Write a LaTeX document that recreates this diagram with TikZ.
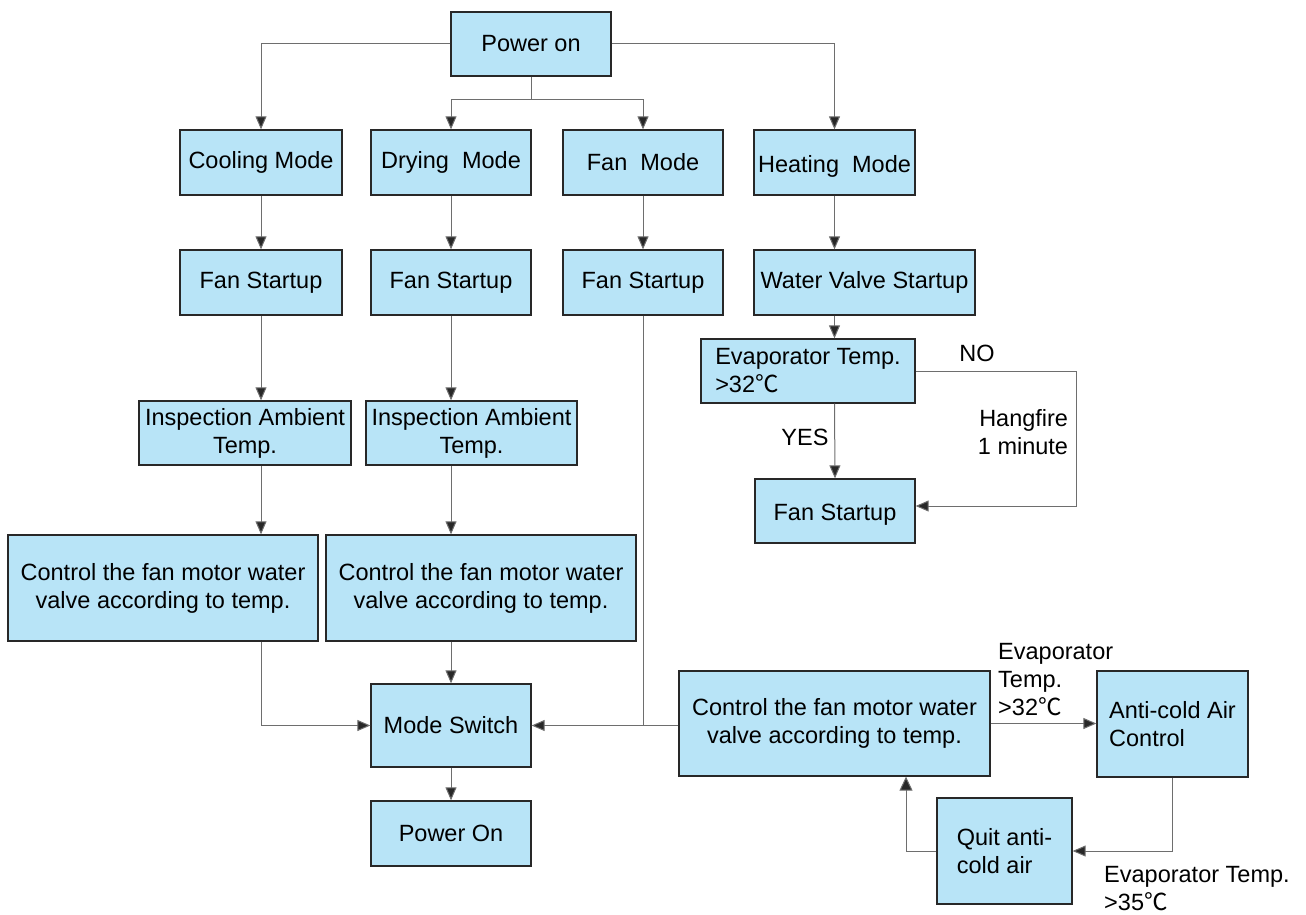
\documentclass[tikz,border=0pt]{standalone}
\usepackage{fontspec}
\setmainfont{Liberation Sans}
\newfontfamily\cjkfont{Noto Sans CJK SC}
\newcommand\mydegc{{\cjkfont ℃}}
\newcommand\lowertext[2]{\raisebox{-#1}[\height][\depth]{#2}}
\usetikzlibrary{arrows.meta}
\definecolor{boxblue}{RGB}{184,228,247}
\definecolor{edgegray}{RGB}{110,110,110}
\definecolor{boxedge}{RGB}{40,40,40}
\tikzset{
  box/.style={draw=boxedge, line width=1.3pt, fill=boxblue, inner sep=0pt, align=center},
  conn/.style={draw=edgegray, line width=1pt},
  arr/.style={conn, -{Triangle[length=13pt,width=11pt,fill=boxedge]}},
  lbl/.style={inner sep=0pt}
}
\begin{document}
\begin{tikzpicture}[x=1pt,y=-1pt,font=\fontsize{23.5}{28}\selectfont]
\useasboundingbox (0,0) rectangle (1306,915);
% boxes
\node[box, minimum width=160pt, minimum height=64pt] (power) at (531,44) {Power on};
\node[box, minimum width=162pt, minimum height=65pt] (cool) at (261,162.5) {Cooling Mode};
\node[box, minimum width=160pt, minimum height=65pt] (dry) at (451,162.5) {Drying~ Mode};
\node[box, minimum width=160pt, minimum height=65pt] (fanm) at (643,162.5) {Fan~ Mode};
\node[box, minimum width=161pt, minimum height=65pt] (heat) at (834.5,162.5) {\lowertext{4pt}{Heating~ Mode}};
\node[box, minimum width=162pt, minimum height=65pt] (fs1) at (261,282.5) {Fan Startup};
\node[box, minimum width=160pt, minimum height=65pt] (fs2) at (451,282.5) {Fan Startup};
\node[box, minimum width=160pt, minimum height=65pt] (fs3) at (643,282.5) {Fan Startup};
\node[box, minimum width=221pt, minimum height=65pt] (wv) at (864.5,282.5) {Water Valve Startup};
\node[box, minimum width=212pt, minimum height=64pt] (insp1) at (245,433) {Inspection Ambient\\Temp.};
\node[box, minimum width=211pt, minimum height=64pt] (insp2) at (471.5,433) {Inspection Ambient\\Temp.};
\node[box, minimum width=214pt, minimum height=64pt, align=left] (evap) at (808,371) {Evaporator Temp.\\>32\mydegc};
\node[box, minimum width=160pt, minimum height=64pt] (fsh) at (835,511) {\lowertext{4pt}{Fan Startup}};
\node[box, minimum width=310pt, minimum height=106pt] (ctl1) at (163,588) {Control the fan motor water\\valve according to temp.};
\node[box, minimum width=310pt, minimum height=106pt] (ctl2) at (481,588) {Control the fan motor water\\valve according to temp.};
\node[box, minimum width=160pt, minimum height=83pt] (ms) at (451,725.5) {Mode Switch};
\node[box, minimum width=160pt, minimum height=65pt] (pon) at (451,833.5) {Power On};
\node[box, minimum width=311pt, minimum height=105pt] (ctl3) at (834.5,723.5) {Control the fan motor water\\valve according to temp.};
\node[box, minimum width=151pt, minimum height=106pt, align=left] (anti) at (1172.5,724) {Anti-cold Air\\Control};
\node[box, minimum width=135pt, minimum height=106pt, align=left] (quit) at (1004.5,851) {Quit anti-\\cold air};
% helper coordinates
\coordinate (split) at (531,100);
\coordinate (nocorner) at (1076,371);
\coordinate (qcol) at (906,851);
% top distribution
\draw[arr] (power.west) -| (cool.north);
\draw[arr] (power.east) -| (heat.north);
\draw[conn] (power.south) -- (split);
\draw[arr] (split) -| (dry.north);
\draw[arr] (split) -| (fanm.north);
% cooling column
\draw[arr] (cool.south) -- (fs1.north);
\draw[arr] (fs1.south) -- (fs1.south |- insp1.north);
\draw[arr] (fs1.south |- insp1.south) -- (fs1.south |- ctl1.north);
\draw[arr] (fs1.south |- ctl1.south) |- (ms.west);
% drying column
\draw[arr] (dry.south) -- (fs2.north);
\draw[arr] (fs2.south) -- (fs2.south |- insp2.north);
\draw[arr] (fs2.south |- insp2.south) -- (fs2.south |- ctl2.north);
\draw[arr] (ms.north |- ctl2.south) -- (ms.north);
% fan column
\draw[arr] (fanm.south) -- (fs3.north);
\draw[arr] (fs3.south) |- (ms.east);
\draw[conn] (ctl3.west |- ms.east) -- (fs3.south |- ms.east);
% mode switch to power on
\draw[arr] (ms.south) -- (pon.north);
% heating column
\draw[arr] (heat.south) -- (heat.south |- wv.north);
\draw[arr] (heat.south |- wv.south) -- (heat.south |- evap.north);
\draw[arr] (heat.south |- evap.south) -- (fsh.north);
\draw[arr] (evap.east) -- (nocorner) |- ([yshift=5pt]fsh.east);
% anti-cold loop
\draw[arr] (ctl3.east) -- (ctl3.east -| anti.west);
\draw[arr] (anti.south) |- (quit.east);
\draw[arr, -{Triangle[length=14pt,width=13pt,fill=boxedge]}] (quit.west) -- (qcol) -- (qcol |- ctl3.south);
% labels
\node[lbl] (nolbl) at (977,353) {NO};
\node[lbl] (yeslbl) at (805,437) {YES};
\node[lbl, align=right] (hang) at (1023,432) {Hangfire\\1 minute};
\node[lbl, align=left, anchor=west] (ev32) at (998,680) {Evaporator\\Temp.\\>32\mydegc};
\node[lbl, align=left, anchor=west] (ev35) at (1104,889) {Evaporator Temp.\\>35\mydegc};
\end{tikzpicture}
\end{document}
